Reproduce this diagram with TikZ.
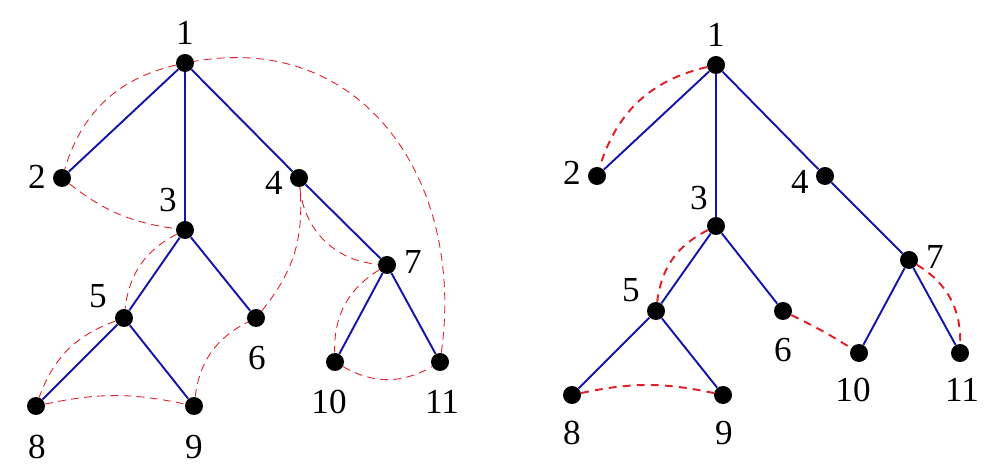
\documentclass[tikz,border=0pt]{standalone}
\usepackage{fontspec}
\setmainfont{Liberation Serif}
\definecolor{treeblue}{RGB}{20,20,170}
\definecolor{cotred}{RGB}{225,30,40}

\begin{document}
\begin{tikzpicture}[x=0.02cm, y=0.02cm,
   vtx/.style={circle, fill=black, inner sep=0pt, minimum size=0.36cm},
   lbl/.style={inner sep=0pt, font=\fontsize{20}{24}\selectfont},
   tree/.style={color=treeblue, line width=1.1pt},
   root/.style={color=treeblue, line width=0.6pt},
   cotthin/.style={color=cotred, line width=0.5pt, dash pattern=on 4.5pt off 3pt},
   cotthick/.style={color=cotred, line width=1.1pt, dash pattern=on 4.5pt off 3.5pt}]
   \useasboundingbox (0,0) rectangle (997,-475);
   % left tree
   \begin{scope}
       \node[vtx] (a1) at (185,-63) {};
       \node[vtx] (a2) at (62,-178) {};
       \node[vtx] (a3) at (185,-230) {};
       \node[vtx] (a4) at (299,-178) {};
       \node[vtx] (a5) at (124,-318) {};
       \node[vtx] (a6) at (256,-318) {};
       \node[vtx] (a7) at (387,-265) {};
       \node[vtx] (a8) at (36,-406) {};
       \node[vtx] (a9) at (194,-406) {};
       \node[vtx] (a10) at (335,-362) {};
       \node[vtx] (a11) at (440,-362) {};
       \node[lbl] (la1) at (185,-33) {1};
       \node[lbl] (la2) at (37,-177) {2};
       \node[lbl] (la3) at (168,-200) {3};
       \node[lbl] (la4) at (274,-183) {4};
       \node[lbl] (la5) at (98,-296) {5};
       \node[lbl] (la6) at (257,-358) {6};
       \node[lbl] (la7) at (413,-262) {7};
       \node[lbl] (la8) at (37,-447) {8};
       \node[lbl] (la9) at (194,-447) {9};
       \node[lbl] (la10) at (329,-402) {10};
       \node[lbl] (la11) at (442,-402) {11};
       \draw[root] (a1) -- (a3);
       \draw[tree] (a1) -- (a2);
       \draw[tree] (a1) -- (a4);
       \draw[tree] (a3) -- (a5);
       \draw[tree] (a3) -- (a6);
       \draw[tree] (a5) -- (a8);
       \draw[tree] (a5) -- (a9);
       \draw[tree] (a4) -- (a7);
       \draw[tree] (a7) -- (a10);
       \draw[tree] (a7) -- (a11);
       \draw[cotthin] (a1) to[bend right=30] (a2);
       \draw[cotthin] (a2) to[bend right=15] (a3);
       \draw[cotthin] (a3) to[bend right=28] (a5);
       \draw[cotthin] (a5) to[bend right=25] (a8);
       \draw[cotthin] (a8) to[bend left=12] (a9);
       \draw[cotthin] (a9) to[bend left=28] (a6);
       \draw[cotthin] (a6) to[bend right=22] (a4);
       \draw[cotthin] (a4) to[bend right=40] (a7);
       \draw[cotthin] (a7) to[bend right=30] (a10);
       \draw[cotthin] (a10) to[bend right=30] (a11);
       \draw[cotthin] (a11) to[out=82, in=10, looseness=1.15] (a1);
   \end{scope}
   % right tree
   \begin{scope}
       \node[vtx] (b1) at (716,-65) {};
       \node[vtx] (b2) at (597,-176) {};
       \node[vtx] (b3) at (716,-226) {};
       \node[vtx] (b4) at (825,-176) {};
       \node[vtx] (b5) at (656,-311) {};
       \node[vtx] (b6) at (783,-311) {};
       \node[vtx] (b7) at (909,-260) {};
       \node[vtx] (b8) at (572,-395) {};
       \node[vtx] (b9) at (723,-395) {};
       \node[vtx] (b10) at (859,-353) {};
       \node[vtx] (b11) at (960,-353) {};
       \node[lbl] (lb1) at (716,-35) {1};
       \node[lbl] (lb2) at (572,-173) {2};
       \node[lbl] (lb3) at (699,-198) {3};
       \node[lbl] (lb4) at (800,-182) {4};
       \node[lbl] (lb5) at (631,-290) {5};
       \node[lbl] (lb6) at (783,-350) {6};
       \node[lbl] (lb7) at (935,-257) {7};
       \node[lbl] (lb8) at (572,-433) {8};
       \node[lbl] (lb9) at (724,-433) {9};
       \node[lbl] (lb10) at (853,-390) {10};
       \node[lbl] (lb11) at (962,-390) {11};
       \draw[root] (b1) -- (b3);
       \draw[tree] (b1) -- (b2);
       \draw[tree] (b1) -- (b4);
       \draw[tree] (b3) -- (b5);
       \draw[tree] (b3) -- (b6);
       \draw[tree] (b5) -- (b8);
       \draw[tree] (b5) -- (b9);
       \draw[tree] (b4) -- (b7);
       \draw[tree] (b7) -- (b10);
       \draw[tree] (b7) -- (b11);
       \draw[cotthick] (b1) to[bend right=30] (b2);
       \draw[cotthick] (b3) to[bend right=28] (b5);
       \draw[cotthick] (b8) to[bend left=12] (b9);
       \draw[cotthick] (b6) to[bend left=3] (b10);
       \draw[cotthick] (b7) to[bend left=30] (b11);
   \end{scope}
\end{tikzpicture}
\end{document}
